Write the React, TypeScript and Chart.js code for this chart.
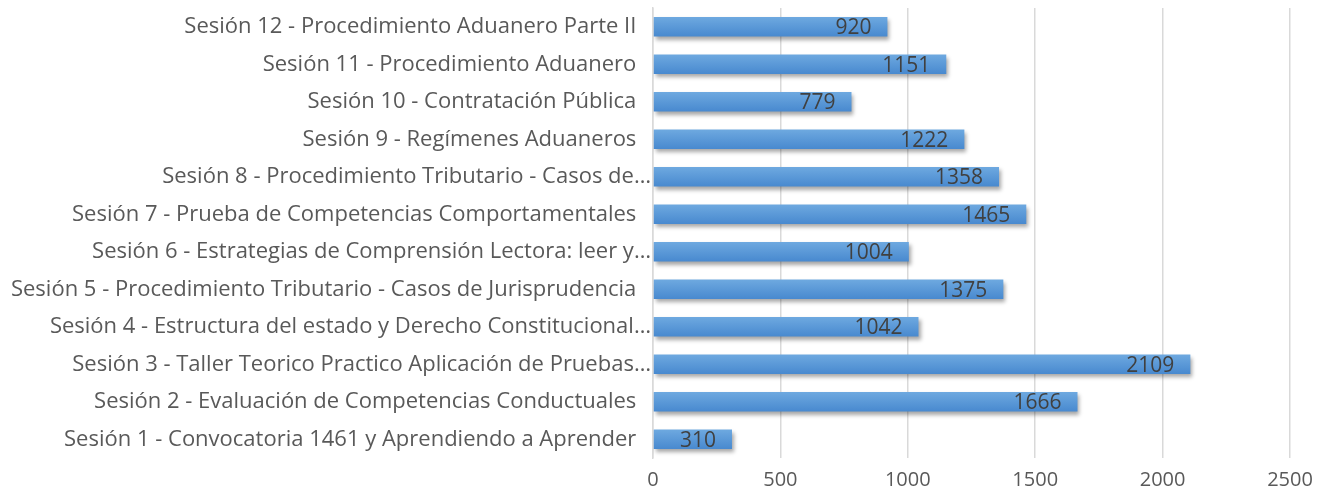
import React, { useEffect, useRef } from "react";
import { Chart, registerables } from "chart.js";

Chart.register(...registerables);

const categories: string[] = [
  "Sesión 12 - Procedimiento Aduanero Parte II",
  "Sesión 11 - Procedimiento Aduanero",
  "Sesión 10 - Contratación Pública",
  "Sesión 9 - Regímenes Aduaneros",
  "Sesión 8 - Procedimiento Tributario - Casos de…",
  "Sesión 7 - Prueba de Competencias Comportamentales",
  "Sesión 6 - Estrategias de Comprensión Lectora: leer y…",
  "Sesión 5 - Procedimiento Tributario - Casos de Jurisprudencia",
  "Sesión 4 - Estructura del estado y Derecho Constitucional…",
  "Sesión 3 - Taller Teorico Practico Aplicación de Pruebas…",
  "Sesión 2 - Evaluación de Competencias Conductuales",
  "Sesión 1 - Convocatoria 1461 y Aprendiendo a Aprender",
];

const values: number[] = [920, 1151, 779, 1222, 1358, 1465, 1004, 1375, 1042, 2109, 1666, 310];

const xTicks: number[] = [0, 500, 1000, 1500, 2000, 2500];

const FONT = "'Open Sans', Lato, sans-serif";

const barStyle = {
  id: "barStyle",
  beforeDatasetsDraw(chart: any) {
    const ctx = chart.ctx;
    const meta = chart.getDatasetMeta(0);
    meta.data.forEach((el: any) => {
      const top = el.y - el.height / 2;
      const bottom = el.y + el.height / 2;
      const g = ctx.createLinearGradient(0, top, 0, bottom);
      g.addColorStop(0, "#6ea9e0");
      g.addColorStop(1, "#4889cf");
      el.options = { ...el.options, backgroundColor: g };
    });
    ctx.save();
    ctx.shadowColor = "rgba(0,0,0,0.35)";
    ctx.shadowBlur = 4;
    ctx.shadowOffsetX = 2;
    ctx.shadowOffsetY = 3;
  },
  afterDatasetsDraw(chart: any) {
    const ctx = chart.ctx;
    ctx.restore();
    const meta = chart.getDatasetMeta(0);
    ctx.save();
    ctx.font = `21px ${FONT}`;
    ctx.fillStyle = "#404040";
    ctx.textAlign = "right";
    ctx.textBaseline = "middle";
    meta.data.forEach((el: any, i: number) => {
      ctx.fillText(String(values[i]), el.x - 16, el.y + 1.5);
    });
    ctx.restore();
  },
};

export default function App() {
  const ref = useRef<HTMLCanvasElement>(null);
  useEffect(() => {
    document.body.style.margin = "0";
    const chart = new Chart(ref.current!, {
      type: "bar",
      data: {
        labels: categories,
        datasets: [
          {
            data: values,
            backgroundColor: "#5b9bd5",
            barPercentage: 0.52,
            categoryPercentage: 1,
          },
        ],
      },
      options: {
        indexAxis: "y",
        animation: false,
        responsive: false,
        layout: { padding: { top: 8, right: 35, left: 0, bottom: 0 } },
        plugins: { legend: { display: false }, tooltip: { enabled: false } },
        scales: {
          x: {
            min: 0,
            max: 2500,
            afterBuildTicks: (scale: any) => {
              scale.ticks = xTicks.map((v) => ({ value: v }));
            },
            afterFit: (scale: any) => {
              scale.height = 32;
              scale.paddingLeft = 0;
              scale.paddingRight = 0;
            },
            grid: { color: "#d9d9d9", lineWidth: 1.5, drawTicks: false },
            border: { display: false },
            ticks: {
              color: "#595959",
              font: { family: FONT, size: 20 },
              padding: 10,
              callback: (v: any) => String(v),
            },
          },
          y: {
            afterFit: (scale: any) => {
              scale.width = 653;
              scale.paddingTop = 0;
              scale.paddingBottom = 0;
            },
            grid: { display: false, drawTicks: false },
            border: { color: "#d9d9d9", width: 1.5 },
            ticks: {
              color: "#595959",
              font: { family: FONT, size: 22 },
              padding: 2,
              autoSkip: false,
              callback: function (this: any, v: any) {
                const s = categories[v as number];
                return s.endsWith("…") ? s : s + "\u2002\u2009";
              },
            },
          },
        },
      },
      plugins: [barStyle],
    });
    return () => chart.destroy();
  }, []);
  return (
    <div style={{ width: 1325, height: 490 }}>
      <canvas ref={ref} width={1325} height={490} style={{ display: "block" }} />
    </div>
  );
}
